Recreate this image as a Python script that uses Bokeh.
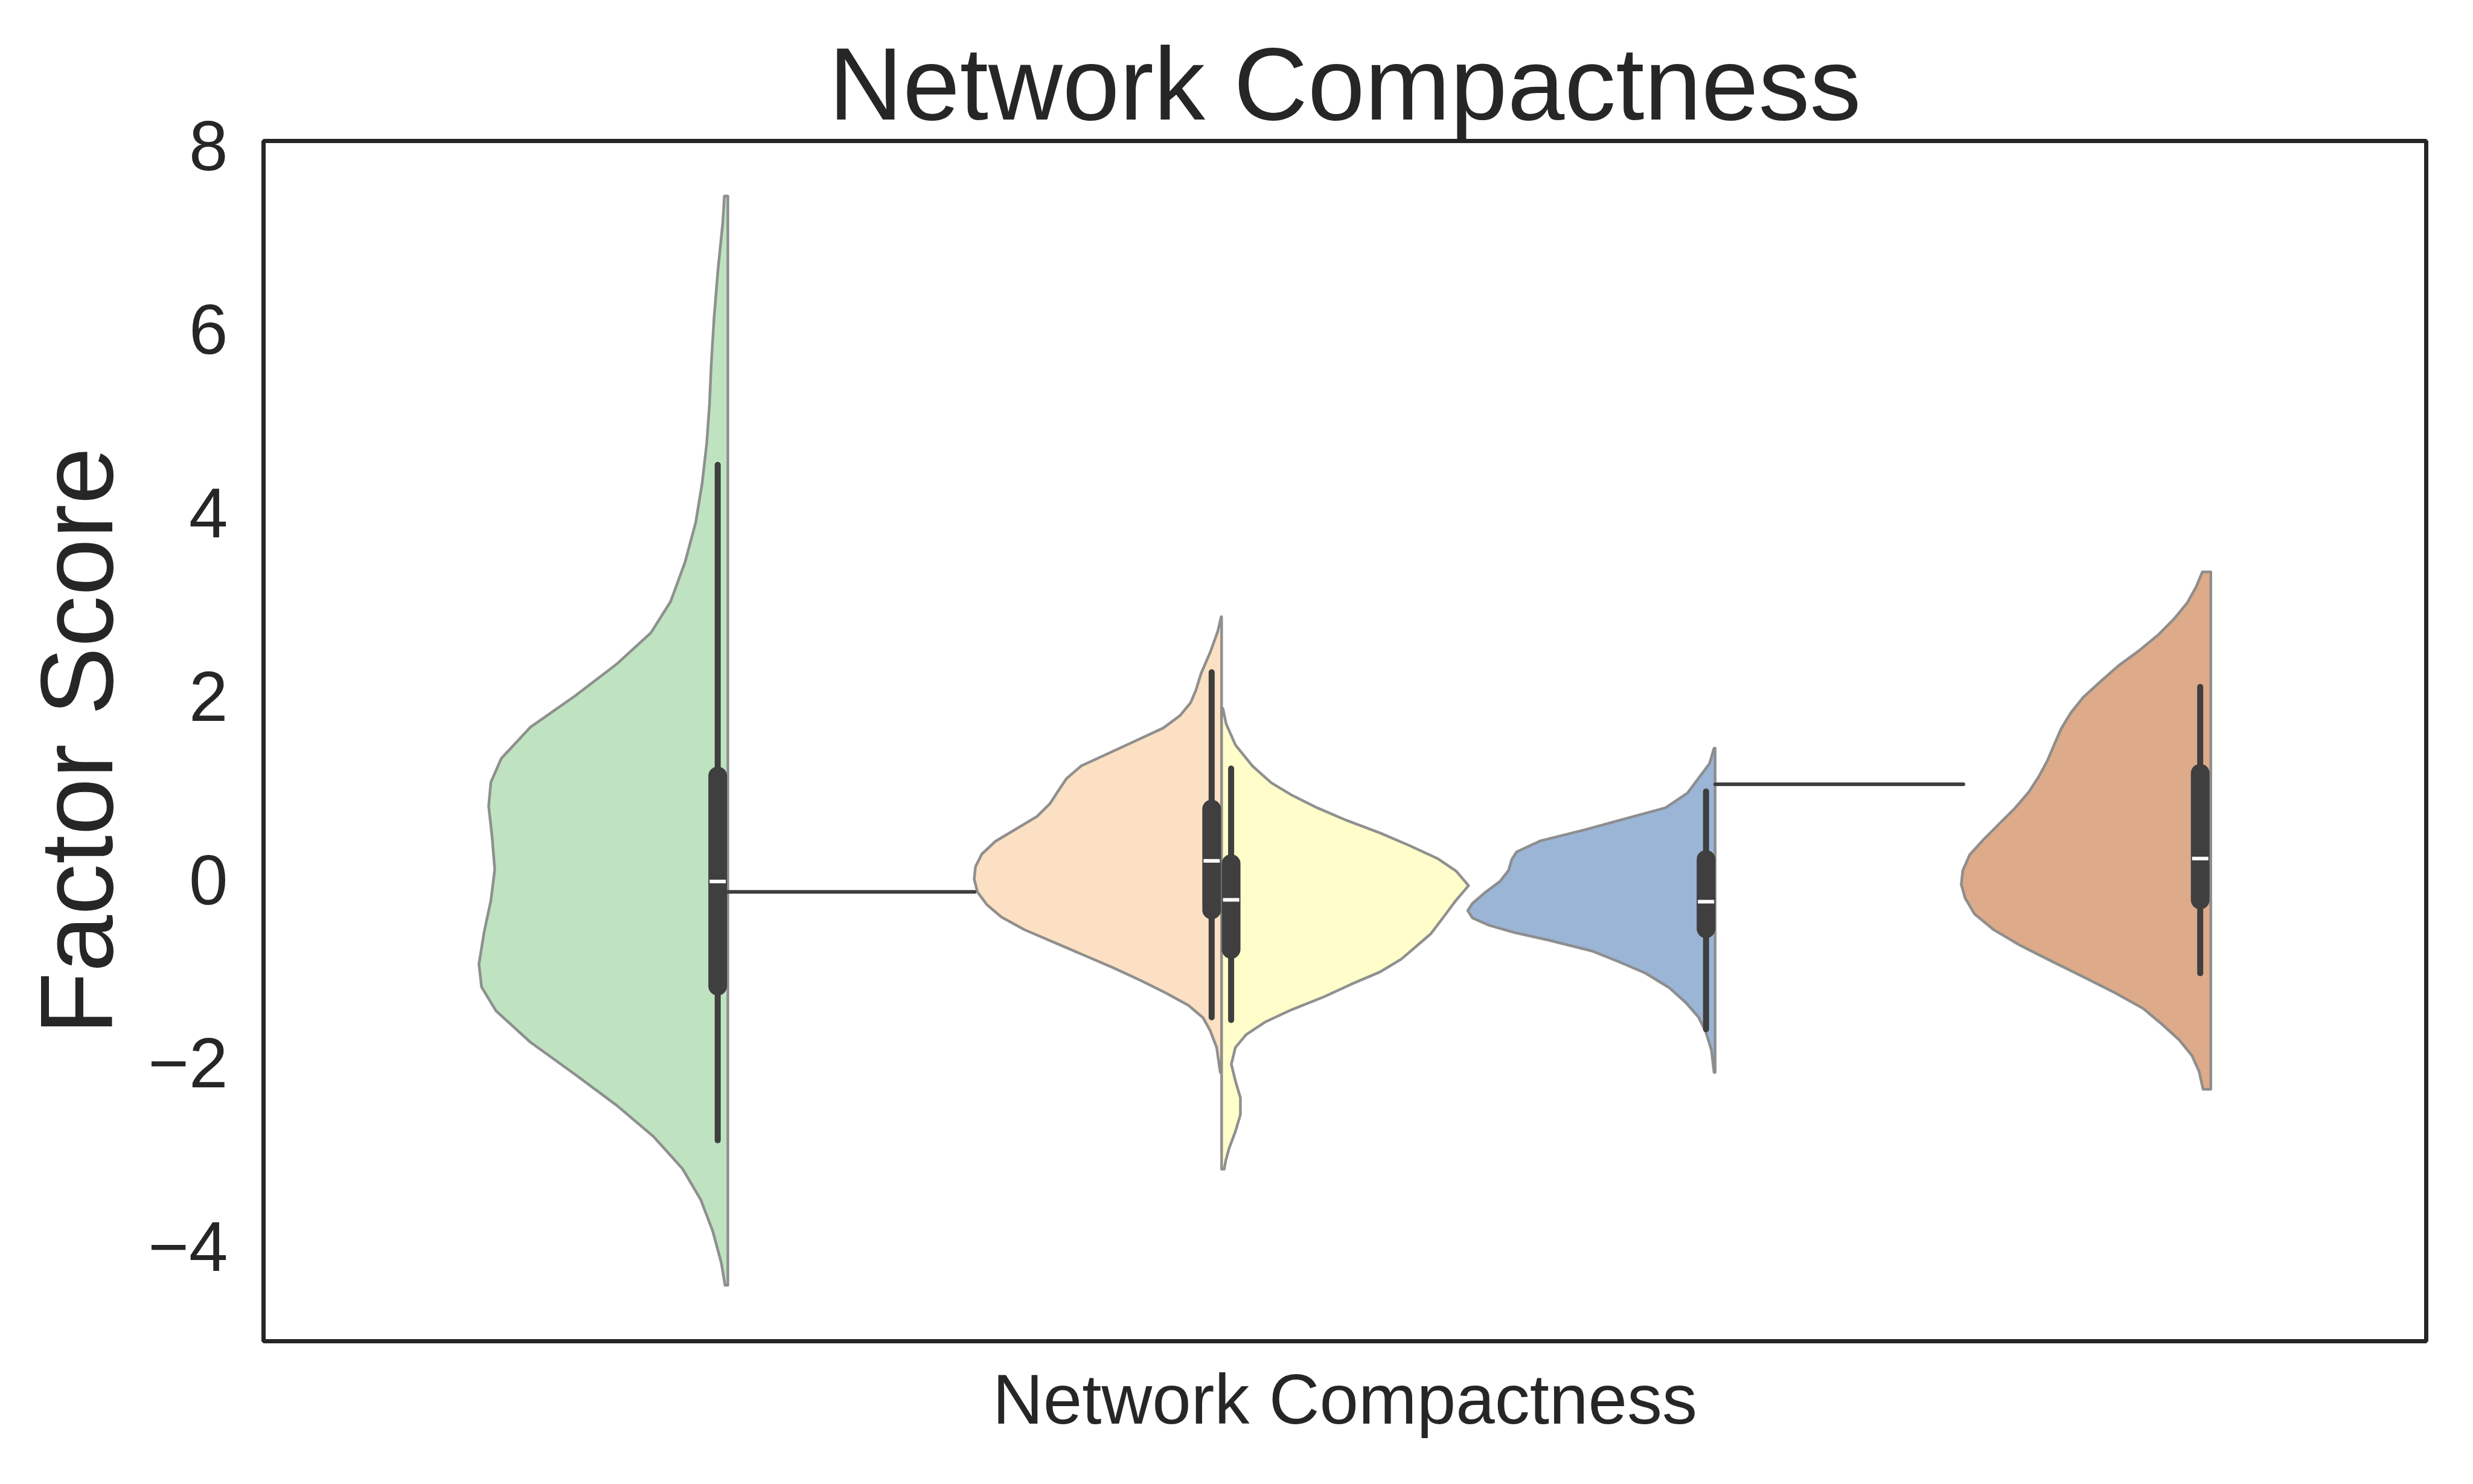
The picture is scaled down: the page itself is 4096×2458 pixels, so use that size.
import numpy as np
from bokeh.plotting import figure
from bokeh.models import Range1d, FixedTicker
from bokeh.embed import file_html
from bokeh.resources import INLINE

# ---------------- data ----------------
y_ticks = [-4, -2, 0, 2, 4, 6, 8]
x_category = "Network Compactness"

# violin centres (x, category units) and which half is drawn
violin_centers = [-0.2853, -0.0570, -0.0570, 0.1712, 0.4004]
violin_sides = ["left", "left", "right", "left", "left"]
violin_colors = ["#BFE3C0", "#FCE0C3", "#FFFECB", "#9BB5D6", "#DDAB8A"]

green_y = [7.45, 7.15, 6.64, 6.12, 5.61, 5.18, 4.75, 4.32, 3.89, 3.46, 3.03, 2.69,
           2.35, 2.00, 1.66, 1.32, 1.06, 0.80, 0.46, 0.11, -0.23, -0.57, -0.92,
           -1.17, -1.43, -1.77, -2.12, -2.46, -2.80, -3.15, -3.49, -3.83, -4.18, -4.42]
green_w = [0.0016, 0.0024, 0.0046, 0.0064, 0.0077, 0.0085, 0.0098, 0.0119, 0.0149,
           0.0198, 0.0265, 0.0356, 0.0514, 0.0708, 0.0914, 0.1048, 0.1096, 0.1106,
           0.1090, 0.1078, 0.1096, 0.1127, 0.1151, 0.1139, 0.1072, 0.0914, 0.0708,
           0.0514, 0.0344, 0.0210, 0.0125, 0.0070, 0.0030, 0.0013]

peach_y = [2.865, 2.704, 2.476, 2.247, 2.064, 1.926, 1.789, 1.652, 1.515, 1.377, 1.240,
           1.102, 0.965, 0.828, 0.690, 0.553, 0.416, 0.278, 0.141, 0.004, -0.134,
           -0.271, -0.408, -0.546, -0.683, -0.821, -0.958, -1.095, -1.232, -1.370,
           -1.507, -1.644, -1.828, -2.102]
peach_w = [0.0002, 0.0018, 0.0053, 0.0095, 0.0119, 0.0144, 0.0192, 0.0270, 0.0396,
           0.0523, 0.0649, 0.0717, 0.0756, 0.0794, 0.0853, 0.0950, 0.1047, 0.1109,
           0.1138, 0.1144, 0.1129, 0.1086, 0.1018, 0.0911, 0.0775, 0.0639, 0.0503,
           0.0377, 0.0260, 0.0153, 0.0085, 0.0053, 0.0023, 0.0006]

yellow_y = [1.867, 1.698, 1.468, 1.240, 1.057, 0.919, 0.782, 0.645, 0.507, 0.370,
            0.232, 0.095, -0.065, -0.225, -0.408, -0.591, -0.729, -0.866, -1.004,
            -1.141, -1.278, -1.415, -1.553, -1.690, -1.828, -2.011, -2.194, -2.377,
            -2.560, -2.743, -2.926, -3.064, -3.155]
yellow_w = [0.0006, 0.0021, 0.0064, 0.0142, 0.0229, 0.0326, 0.0443, 0.0579, 0.0734,
            0.0870, 0.0997, 0.1084, 0.1142, 0.1084, 0.1026, 0.0967, 0.0899, 0.0831,
            0.0734, 0.0598, 0.0472, 0.0326, 0.0200, 0.0113, 0.0064, 0.0045, 0.0064,
            0.0087, 0.0087, 0.0064, 0.0035, 0.0019, 0.0012]

blue_y = [1.433, 1.265, 1.105, 0.944, 0.784, 0.664, 0.544, 0.424, 0.303, 0.223, 0.103,
          -0.017, -0.137, -0.258, -0.337, -0.418, -0.498, -0.578, -0.658, -0.778,
          -0.898, -1.018, -1.179, -1.339, -1.499, -1.659, -1.860, -2.100]
blue_w = [0.0005, 0.0026, 0.0077, 0.0128, 0.0229, 0.0417, 0.0603, 0.0807, 0.0918,
          0.0940, 0.0955, 0.0994, 0.1062, 0.1122, 0.1144, 0.1122, 0.1045, 0.0926,
          0.0773, 0.0569, 0.0442, 0.0323, 0.0212, 0.0136, 0.0077, 0.0043, 0.0017, 0.0005]

orange_y = [3.354, 3.190, 3.018, 2.847, 2.675, 2.503, 2.332, 2.160, 1.988, 1.816,
            1.645, 1.473, 1.301, 1.129, 0.957, 0.786, 0.614, 0.442, 0.271, 0.099,
            -0.052, -0.201, -0.373, -0.545, -0.717, -0.889, -1.060, -1.232, -1.404,
            -1.576, -1.747, -1.919, -2.091, -2.284]
orange_w = [0.0039, 0.0068, 0.0109, 0.0168, 0.0240, 0.0328, 0.0427, 0.0510, 0.0590,
            0.0648, 0.0692, 0.0724, 0.0755, 0.0794, 0.0841, 0.0903, 0.0976, 0.1049,
            0.1115, 0.1147, 0.1154, 0.1136, 0.1093, 0.1005, 0.0881, 0.0736, 0.0590,
            0.0444, 0.0313, 0.0226, 0.0146, 0.0087, 0.0054, 0.0036]

violin_ys = [green_y, peach_y, yellow_y, blue_y, orange_y]
violin_ws = [green_w, peach_w, yellow_w, blue_w, orange_w]

# inner boxes: x, q1, q3, median, whisker low, whisker high
box_x = [-0.2900, -0.0616, -0.0526, 0.1670, 0.3955]
box_q1 = [-1.16, -0.33, -0.76, -0.535, -0.22]
box_q3 = [1.13, 0.77, 0.175, 0.22, 1.16]
box_med = [-0.02, 0.205, -0.22, -0.24, 0.23]
box_lo = [-2.84, -1.50, -1.53, -1.63, -1.02]
box_hi = [4.52, 2.26, 1.21, 0.96, 2.10]

# horizontal connector lines
conn_x0 = [-0.2853, 0.1712]
conn_x1 = [-0.1712, 0.2860]
conn_y = [-0.133, 1.040]

# ---------------- figure ----------------
FONT = "Liberation Sans"
TXT = "#262626"

p = figure(width=4096, height=2458, output_backend="svg", toolbar_location=None,
           x_range=Range1d(-0.5, 0.5), y_range=Range1d(-5.03, 8.05),
           min_border_left=436, min_border_right=78, min_border_top=233,
           min_border_bottom=237)
p.background_fill_color = "white"
p.border_fill_color = "white"
p.grid.visible = False
p.outline_line_color = TXT
p.outline_line_width = 7

p.title.text = "Network Compactness"
p.title.align = "center"
p.title.text_font = FONT
p.title.text_font_size = "170px"
p.title.text_font_style = "normal"
p.title.text_color = TXT
p.title.standoff = 0

# y axis
p.yaxis.ticker = FixedTicker(ticks=y_ticks)
p.yaxis.major_label_overrides = {t: (("\u2212" + str(-t)) if t < 0 else str(t)) for t in y_ticks}
p.yaxis.axis_label = "Factor Score"
p.yaxis.axis_label_text_font = FONT
p.yaxis.axis_label_text_font_size = "170px"
p.yaxis.axis_label_text_font_style = "normal"
p.yaxis.axis_label_text_color = TXT
p.yaxis.axis_label_standoff = 20
p.yaxis.major_label_text_font = FONT
p.yaxis.major_label_text_font_size = "116px"
p.yaxis.major_label_text_color = TXT
p.yaxis.major_label_standoff = 53

# x axis
p.xaxis.ticker = FixedTicker(ticks=[0])
p.xaxis.major_label_overrides = {0: x_category}
p.xaxis.major_label_text_font = FONT
p.xaxis.major_label_text_font_size = "116px"
p.xaxis.major_label_text_color = TXT
p.xaxis.major_label_standoff = 25

for ax in (p.xaxis, p.yaxis):
    ax.axis_line_color = None
    ax.major_tick_line_color = None
    ax.minor_tick_line_color = None

# violins
for c, side, col, ys, ws in zip(violin_centers, violin_sides, violin_colors, violin_ys, violin_ws):
    ys = np.asarray(ys)
    ws = np.asarray(ws)
    sign = -1.0 if side == "left" else 1.0
    xs = np.concatenate([[c], c + sign * ws, [c]])
    yy = np.concatenate([[ys[0]], ys, [ys[-1]]])
    p.patch(xs, yy, fill_color=col, fill_alpha=1.0, line_color="#8a8a8a",
            line_width=4.5, line_alpha=0.95, line_join="round")

# connectors
p.segment(x0=conn_x0, y0=conn_y, x1=conn_x1, y1=conn_y, line_color="#3f3f3f",
          line_width=6, line_cap="round")

# inner boxes
p.segment(x0=box_x, y0=box_lo, x1=box_x, y1=box_hi, line_color="#3f3f3f",
          line_width=10, line_cap="round")
p.segment(x0=box_x, y0=box_q1, x1=box_x, y1=box_q3, line_color="#3f3f3f",
          line_width=31, line_cap="round")
p.rect(x=box_x, y=box_med, width=27, height=6, width_units="screen",
       height_units="screen", fill_color="white", line_color=None)

open("out.html", "w").write(file_html(p, INLINE))
